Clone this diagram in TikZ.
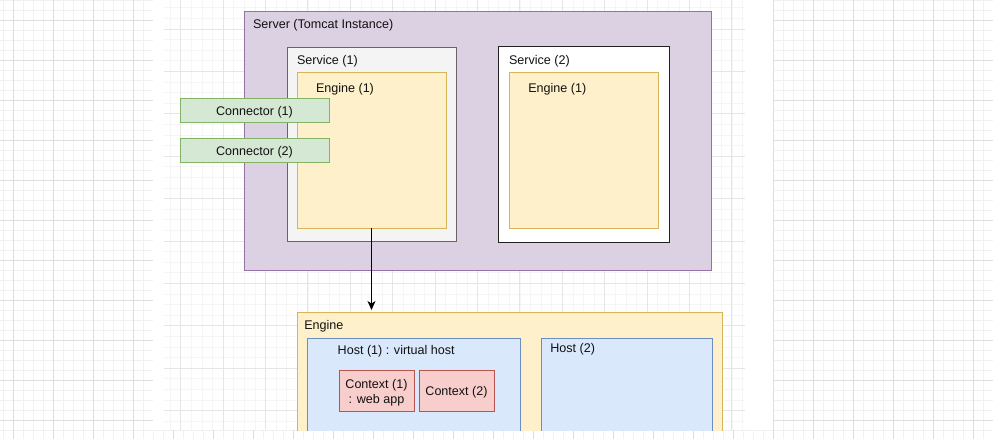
\documentclass[tikz,border=0pt]{standalone}
\usepackage{fontspec}
\setmainfont{Liberation Sans}
\usetikzlibrary{arrows.meta}
\definecolor{gomaj}{HTML}{DEDEDE}
\definecolor{gomin}{HTML}{F1F1F1}
\definecolor{gimaj}{HTML}{E6E6E6}
\definecolor{gimin}{HTML}{F5F5F5}
\definecolor{purpfill}{HTML}{DCD0E3}
\definecolor{purpline}{HTML}{9673A6}
\definecolor{greyfill}{HTML}{F4F4F4}
\definecolor{greyline}{HTML}{666666}
\definecolor{yelfill}{HTML}{FDF0CB}
\definecolor{yelline}{HTML}{D6B656}
\definecolor{grnfill}{HTML}{D5E8D4}
\definecolor{grnline}{HTML}{82B366}
\definecolor{bluefill}{HTML}{DAE8FC}
\definecolor{blueline}{HTML}{6C8EBF}
\definecolor{redfill}{HTML}{F8CECC}
\definecolor{redline}{HTML}{B85450}
\definecolor{darkline}{HTML}{222222}
\definecolor{txt}{HTML}{111111}
\tikzset{
  box/.style={draw, line width=1pt, anchor=north west, inner sep=0pt, outer sep=0pt},
  lbl/.style={anchor=west, inner sep=0pt, outer sep=0pt, text=txt, font=\fontsize{12.56}{15.07}\selectfont},
  boxtext/.style={anchor=center, inner sep=0pt, outer sep=0pt, text=txt, font=\fontsize{12.56}{15.07}\selectfont, align=center},
  arrowline/.style={draw=black, line width=1pt, -{Stealth[length=9pt,width=8pt,inset=2.5pt]}},
}
\begin{document}
\begin{tikzpicture}[x=1pt,y=-1pt]
\useasboundingbox (0,0) rectangle (993,439);
\fill[white] (0,0) rectangle (993,439);
% outer grid
\foreach \i in {0,...,99} \draw[gomin, line width=0.8pt] ({3.33+10*\i},0) -- ({3.33+10*\i},439);
\foreach \i in {0,...,44} \draw[gomin, line width=0.8pt] (0,{10*\i}) -- (993,{10*\i});
\foreach \i in {0,...,24} \draw[gomaj, line width=0.9pt] ({13.33+40*\i},0) -- ({13.33+40*\i},439);
\foreach \i in {0,...,10} \draw[gomaj, line width=0.9pt] (0,{20+40*\i}) -- (993,{20+40*\i});
% screenshot area
\fill[white] (153,0) rectangle (773,430);
\begin{scope}
\clip (164,0) rectangle (745,430);
\foreach \i in {-2,...,53} \draw[gimin, line width=0.8pt] ({180.7+10.6*\i},0) -- ({180.7+10.6*\i},430);
\foreach \i in {-3,...,38} \draw[gimin, line width=0.8pt] (164,{29+10.6*\i}) -- (745,{29+10.6*\i});
\foreach \i in {-1,...,13} \draw[gimaj, line width=0.9pt] ({180.7+42.4*\i},0) -- ({180.7+42.4*\i},430);
\foreach \i in {0,...,9} \draw[gimaj, line width=0.9pt] (164,{29+42.4*\i}) -- (745,{29+42.4*\i});

% server
\node[box, fill=purpfill, draw=purpline, minimum width=467pt, minimum height=259pt] (server) at (244,11) {};
\node[lbl] (serverlbl) at (253,25) {Server (Tomcat Instance)};
% service 1
\node[box, fill=greyfill, draw=greyline, minimum width=169pt, minimum height=194pt] (svc1) at (287,47) {};
\node[lbl] (svc1lbl) at (297,61.3) {Service (1)};
\node[box, fill=yelfill, draw=yelline, minimum width=149pt, minimum height=156pt] (eng1) at (297,72) {};
\node[lbl] (eng1lbl) at (316,89.5) {Engine (1)};
% service 2
\node[box, fill=white, draw=darkline, minimum width=171pt, minimum height=196pt] (svc2) at (498,46) {};
\node[lbl] (svc2lbl) at (509,61) {Service (2)};
\node[box, fill=yelfill, draw=yelline, minimum width=149pt, minimum height=156pt] (eng2) at (509,72) {};
\node[lbl] (eng2lbl) at (528.3,89.5) {Engine (1)};
% connectors
\node[box, fill=grnfill, draw=grnline, minimum width=149pt, minimum height=24pt] (con1) at (180,98) {};
\node[boxtext] (con1lbl) at ([yshift=-2pt]con1.center) {Connector (1)};
\node[box, fill=grnfill, draw=grnline, minimum width=149pt, minimum height=24pt] (con2) at (180,138) {};
\node[boxtext] (con2lbl) at ([yshift=-2pt]con2.center) {Connector (2)};
% engine (bottom)
\node[box, fill=yelfill, draw=yelline, minimum width=425pt, minimum height=160pt] (engine) at (297,312) {};
\node[lbl] (enginelbl) at (304.3,326) {Engine};
\node[box, fill=bluefill, draw=blueline, minimum width=213pt, minimum height=120pt] (host1) at (307,338) {};
\node[lbl] (host1lbl) at (337.7,351.3) {Host (1) : virtual host};
\node[box, fill=bluefill, draw=blueline, minimum width=171pt, minimum height=120pt] (host2) at (541,338) {};
\node[lbl] (host2lbl) at (550.3,349.7) {Host (2)};
\node[box, fill=redfill, draw=redline, minimum width=75pt, minimum height=41pt] (ctx1) at (339,370) {};
\node[boxtext] (ctx1lbl) at ([yshift=-2.5pt]ctx1.center) {Context (1)\\: web app};
\node[box, fill=redfill, draw=redline, minimum width=75pt, minimum height=41pt] (ctx2) at (419,370) {};
\node[boxtext] (ctx2lbl) at ([yshift=-2pt]ctx2.center) {Context (2)};
% arrow
\path (engine.north -| eng1.south) ++(0,-2) coordinate (arrend);
\draw[arrowline] (eng1.south) -- (arrend);
\end{scope}
\end{tikzpicture}
\end{document}
